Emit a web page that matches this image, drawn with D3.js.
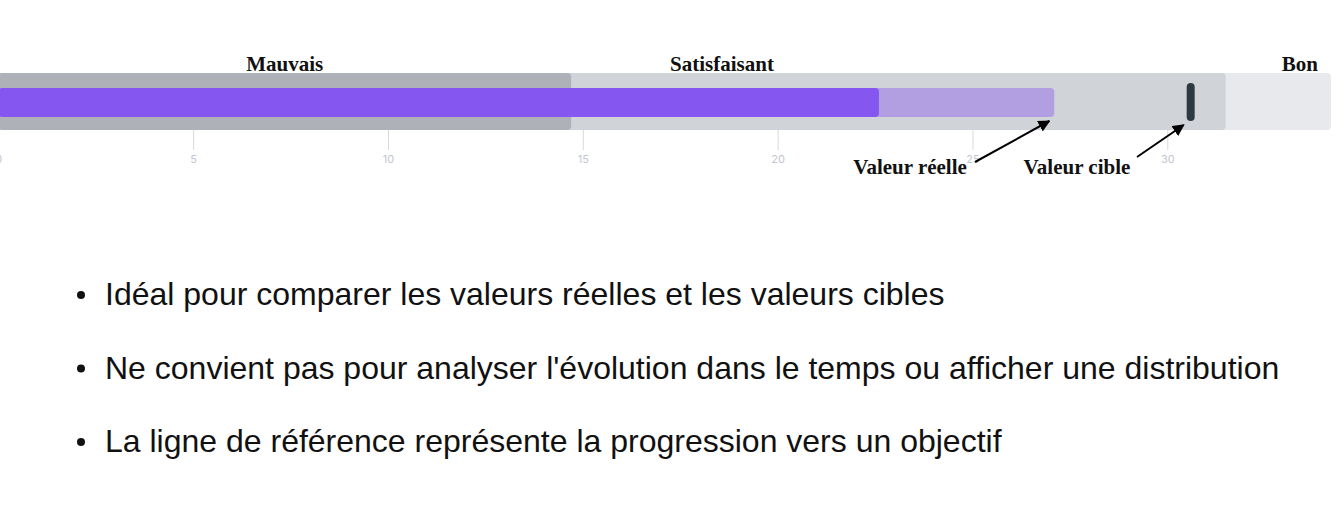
<!DOCTYPE html>
<html>
<head>
<meta charset="utf-8">
<script src="https://cdn.jsdelivr.net/npm/d3@7"></script>
<style>
  html, body { margin: 0; padding: 0; background: #fff; overflow: hidden; }
</style>
</head>
<body>
<div id="chart"></div>
<script>
// Bullet chart data
const rangeLabels = ["Mauvais", "Satisfaisant", "Bon"];
const rangeEnds = [14.7, 31.5, 34.2];
const rangeColors = ["#aeb2b8", "#d0d3d8", "#e8e9ec"];
const actualValue = 22.6;
const projectedValue = 27.1;
const targetValue = 30.6;
const tickValues = [0, 5, 10, 15, 20, 25, 30];
const annotations = ["Valeur réelle", "Valeur cible"];
const bullets = [
    "Idéal pour comparer les valeurs réelles et les valeurs cibles",
    "Ne convient pas pour analyser l'évolution dans le temps ou afficher une distribution",
    "La ligne de référence représente la progression vers un objectif"
];

const w = 1342, h = 509;

const svg = d3.select("#chart")
    .append("svg")
    .attr("width", w)
    .attr("height", h);

const defs = svg.append("defs");
defs.append("marker")
    .attr("id", "arrow")
    .attr("viewBox", "0 0 10 10")
    .attr("refX", 9)
    .attr("refY", 5)
    .attr("markerWidth", 6)
    .attr("markerHeight", 6)
    .attr("orient", "auto")
    .append("path")
    .attr("d", "M0,0 L10,5 L0,10 z")
    .attr("fill", "#000");

// x scale: 0 sits just off the left edge
const x = d3.scaleLinear().domain([0, 30]).range([-1.7, 1167.3]);

const bandTop = 73, bandH = 57;
const barTop = 88, barH = 29;

// Qualitative ranges (widest first)
const ranges = rangeEnds.map((v, i) => ({ v, c: rangeColors[i] })).reverse();
svg.append("g")
    .selectAll("rect")
    .data(ranges)
    .join("rect")
        .attr("x", x(0))
        .attr("y", bandTop)
        .attr("width", d => x(d.v) - x(0))
        .attr("height", bandH)
        .attr("rx", 4)
        .attr("fill", d => d.c);

// Measure bars
svg.append("g")
    .selectAll("rect")
    .data([{ v: projectedValue, c: "#b29fe2" }, { v: actualValue, c: "#8656f0" }])
    .join("rect")
        .attr("x", x(0))
        .attr("y", barTop)
        .attr("width", d => x(d.v) - x(0))
        .attr("height", barH)
        .attr("rx", 4)
        .attr("fill", d => d.c);

// Target marker
svg.append("rect")
    .attr("x", x(targetValue) - 4)
    .attr("y", 83)
    .attr("width", 8)
    .attr("height", 38)
    .attr("rx", 4)
    .attr("fill", "#2d3a42");

// Axis
const axis = d3.axisBottom(x)
    .tickValues(tickValues)
    .tickSize(20)
    .tickPadding(5);

const ax = svg.append("g")
    .attr("transform", `translate(0,${bandTop + bandH})`)
    .call(axis);
ax.select(".domain").remove();
ax.selectAll(".tick line").attr("stroke", "#d6d9de");
ax.selectAll(".tick text")
    .attr("fill", "#c0c6d0")
    .attr("font-family", "Inter, 'Open Sans', sans-serif")
    .attr("font-size", 11);

// Range labels
const labelX = [x(rangeEnds[0] / 2), 722, 1318];
const labelAnchor = ["middle", "middle", "end"];
svg.append("g")
    .selectAll("text")
    .data(rangeLabels)
    .join("text")
        .attr("x", (d, i) => labelX[i])
        .attr("y", 71)
        .attr("text-anchor", (d, i) => labelAnchor[i])
        .attr("font-family", "'Liberation Serif', 'Times New Roman', serif")
        .attr("font-weight", "bold")
        .attr("font-size", 21)
        .attr("fill", "#111")
        .text(d => d);

// Annotations with arrows
const annX = [910, 1077];
const annArrows = [
    [[975, 162], [x(projectedValue) - 5, barTop + barH + 4]],
    [[1137, 157], [x(targetValue) - 7, 125]]
];
svg.append("g")
    .selectAll("text")
    .data(annotations)
    .join("text")
        .attr("x", (d, i) => annX[i])
        .attr("y", 174)
        .attr("text-anchor", "middle")
        .attr("font-family", "'Liberation Serif', 'Times New Roman', serif")
        .attr("font-weight", "bold")
        .attr("font-size", 21)
        .attr("fill", "#111")
        .text(d => d);

svg.append("g")
    .selectAll("line")
    .data(annArrows)
    .join("line")
        .attr("x1", d => d[0][0])
        .attr("y1", d => d[0][1])
        .attr("x2", d => d[1][0])
        .attr("y2", d => d[1][1])
        .attr("stroke", "#000")
        .attr("stroke-width", 2)
        .attr("marker-end", "url(#arrow)");

// Bullet list
const list = svg.append("g")
    .selectAll("g")
    .data(bullets)
    .join("g")
        .attr("transform", (d, i) => `translate(0,${305 + i * 73.5})`);

list.append("circle")
    .attr("cx", 81)
    .attr("cy", -10)
    .attr("r", 4)
    .attr("fill", "#111");

list.append("text")
    .attr("x", 105)
    .attr("y", 0)
    .attr("font-family", "'Liberation Sans', Arial, sans-serif")
    .attr("font-size", 32)
    .attr("fill", "#111")
    .text(d => d);
</script>
</body>
</html>
